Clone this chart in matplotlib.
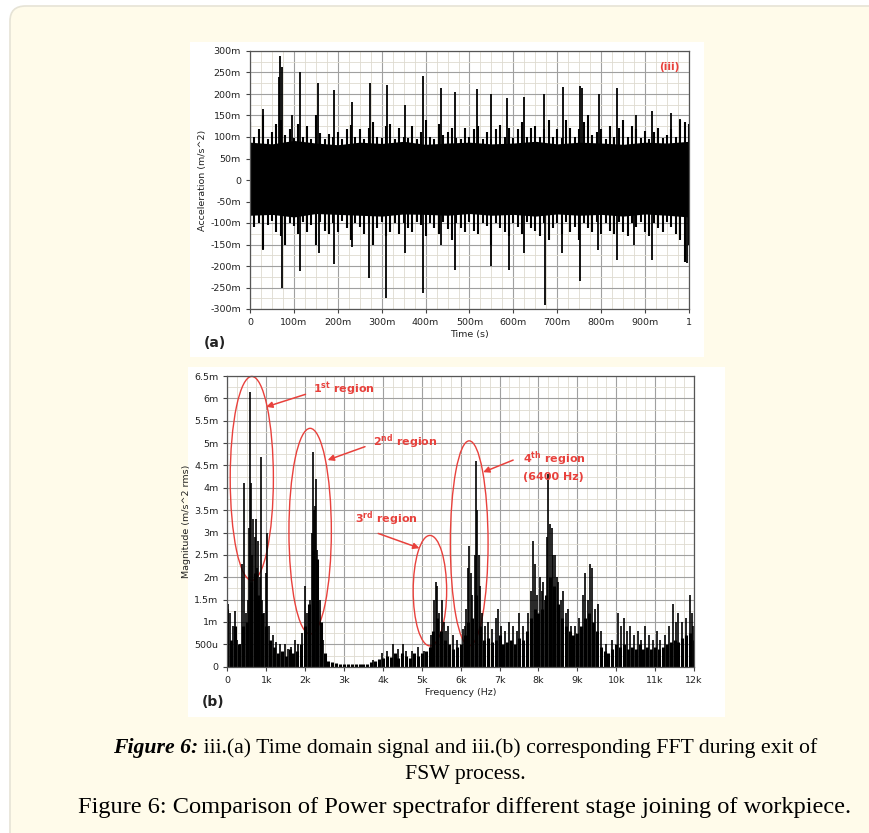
import numpy as np
import matplotlib
matplotlib.use("Agg")
import matplotlib.pyplot as plt
from matplotlib.patches import Ellipse, Rectangle, FancyBboxPatch
from matplotlib.ticker import FixedLocator, MultipleLocator

plt.rcParams['mathtext.fontset'] = 'dejavusans'

# ---------------- DATA: panel (a) time-domain signal ----------------
t_env = [i / 100 for i in range(101)]  # envelope sample times (s)
upper_env = [135,100,118,150,95,112,130,140,105,118,
             98,130,100,125,95,150,110,96,108,100,
             112,95,118,128,100,118,95,120,135,100,
             98,125,130,96,120,100,98,125,95,112,
             140,100,96,130,105,112,120,98,95,122,
             100,118,125,96,112,95,118,128,100,120,
             98,118,135,100,120,125,100,118,140,100,
             118,98,140,120,100,118,135,150,105,112,
             118,96,125,100,120,140,100,125,118,98,
             115,96,112,120,98,105,118,100,140,135,130]
lower_env = [-95,-110,-100,-160,-105,-96,-120,-130,-150,-100,
             -108,-125,-98,-120,-105,-150,-98,-118,-125,-100,
             -120,-96,-112,-140,-100,-110,-125,-100,-150,-112,
             -98,-130,-120,-100,-125,-100,-112,-120,-98,-105,
             -130,-100,-112,-125,-98,-115,-140,-100,-112,-120,
             -98,-118,-125,-100,-108,-150,-100,-112,-120,-130,
             -100,-110,-125,-98,-112,-118,-130,-100,-140,-112,
             -100,-125,-98,-120,-110,-140,-100,-112,-120,-98,
             -125,-100,-118,-125,-98,-120,-130,-100,-110,-98,
             -120,-130,-100,-112,-120,-98,-110,-125,-140,-190,-150]
t_core = [i / 20 for i in range(21)]
core_upper = [88,84,92,86,82,88,85,90,83,86,88,84,86,90,84,88,86,83,88,86,90]
core_lower = [-82,-80,-86,-78,-80,-82,-84,-79,-80,-82,-78,-82,-80,-84,-79,-82,-80,-84,-79,-82,-86]
spike_up_t = [0.030,0.066,0.068,0.072,0.095,0.114,0.154,0.191,0.232,0.273,0.312,0.353,0.394,
              0.434,0.468,0.518,0.550,0.586,0.624,0.670,0.713,0.752,0.756,0.796,0.837,0.880,
              0.915,0.960,0.980]
spike_up_v = [166,240,288,262,151,250,225,209,182,225,221,174,242,213,204,211,201,190,192,199,
              217,218,215,201,213,150,160,155,143]
spike_lo_t = [0.030,0.072,0.114,0.157,0.192,0.232,0.270,0.310,0.353,0.394,0.434,0.468,0.550,
              0.590,0.624,0.672,0.710,0.751,0.793,0.837,0.875,0.915,0.995]
spike_lo_v = [-163,-252,-211,-170,-195,-155,-228,-275,-170,-262,-150,-209,-200,-209,-170,-290,
              -170,-236,-163,-186,-150,-186,-192]
a_yticks = [300,250,200,150,100,50,0,-50,-100,-150,-200,-250,-300]
a_ylabels = ['300m','250m','200m','150m','100m','50m','0','-50m','-100m','-150m','-200m','-250m','-300m']
a_xticks = [0,0.1,0.2,0.3,0.4,0.5,0.6,0.7,0.8,0.9,1.0]
a_xlabels = ['0','100m','200m','300m','400m','500m','600m','700m','800m','900m','1']

# ---------------- DATA: panel (b) FFT magnitude ----------------
f_floor = [i * 0.1 for i in range(121)]  # kHz
floor_v = [1.3,0.6,0.9,0.5,0.9,1.0,1.9,2.1,1.6,1.2,
           0.9,0.6,0.45,0.3,0.35,0.25,0.4,0.3,0.35,0.5,
           0.9,1.4,2.6,2.4,1.0,0.3,0.12,0.1,0.08,0.07,
           0.06,0.05,0.05,0.05,0.05,0.06,0.07,0.1,0.12,0.18,
           0.2,0.25,0.22,0.3,0.2,0.3,0.25,0.2,0.3,0.25,
           0.3,0.35,0.45,0.8,1.1,0.8,0.6,0.5,0.4,0.45,
           0.5,0.7,1.0,1.1,1.6,0.9,0.6,0.65,0.55,0.6,
           0.7,0.5,0.55,0.6,0.5,0.65,0.6,0.8,1.1,1.3,
           1.2,1.3,1.6,2.0,1.8,1.4,1.1,0.9,0.8,0.7,
           0.75,0.9,1.1,1.2,1.0,0.8,0.45,0.35,0.3,0.4,
           0.5,0.45,0.5,0.4,0.45,0.4,0.5,0.4,0.45,0.4,
           0.45,0.4,0.45,0.5,0.55,0.6,0.55,0.65,0.7,0.75,0.6]
peak_f = [0.00,0.03,0.08,0.15,0.20,0.26,0.33,0.39,0.42,0.47,0.52,0.56,0.58,0.61,0.64,0.67,0.70,
          0.73,0.77,0.80,0.83,0.86,0.90,0.95,1.00,1.02,1.08,1.18,1.25,1.35,1.48,1.55,1.65,1.74,
          1.82,1.91,2.01,2.06,2.12,2.17,2.20,2.23,2.26,2.28,2.31,2.34,2.38,2.45,3.75,3.97,4.10,
          4.27,4.40,4.53,4.60,4.75,4.90,5.05,5.25,5.32,5.36,5.40,5.45,5.51,5.57,5.63,5.68,5.80,
          5.90,6.05,6.10,6.15,6.20,6.22,6.27,6.30,6.36,6.39,6.43,6.46,6.50,6.55,6.62,6.71,6.80,
          6.90,6.97,7.05,7.15,7.25,7.35,7.44,7.50,7.60,7.72,7.80,7.87,7.91,7.96,8.04,8.10,8.13,
          8.18,8.23,8.25,8.30,8.34,8.37,8.43,8.47,8.51,8.57,8.64,8.70,8.77,8.85,8.95,9.05,9.15,
          9.20,9.27,9.33,9.39,9.45,9.54,9.62,9.75,9.90,10.05,10.12,10.20,10.28,10.35,10.45,10.55,
          10.65,10.74,10.85,10.95,11.04,11.12,11.25,11.35,11.47,11.53,11.60,11.70,11.80,11.90,
          11.95,11.98]
peak_v = [3.0,1.4,1.2,0.9,1.25,0.6,0.5,2.3,4.1,1.2,1.5,3.1,6.15,4.1,2.5,3.3,2.9,
          3.3,2.2,2.8,2.0,4.7,1.5,1.2,2.1,3.0,0.9,0.7,0.55,0.5,0.5,0.4,0.45,0.6,
          0.5,0.75,1.8,1.2,1.5,3.0,4.8,3.5,3.6,4.2,2.6,2.2,1.5,0.6,0.15,0.3,0.35,
          0.5,0.4,0.5,0.35,0.35,0.45,0.35,0.7,1.5,1.9,1.8,1.2,1.5,1.0,0.8,0.9,0.7,
          0.6,0.85,0.9,1.3,2.2,2.7,2.1,1.6,2.5,4.6,3.5,2.5,1.8,1.2,0.9,1.0,0.85,
          1.1,1.3,0.9,0.8,1.0,0.9,0.8,1.2,0.9,1.2,1.7,2.8,2.3,1.6,2.0,1.7,1.9,
          1.5,2.9,4.3,3.2,3.1,2.5,2.5,2.0,1.9,1.5,1.7,1.2,1.3,0.9,0.9,1.1,1.6,
          2.1,1.5,2.3,2.2,1.3,1.4,0.8,0.5,0.6,1.2,0.9,1.1,0.8,0.9,0.7,0.8,
          0.6,0.9,0.7,0.6,0.8,0.6,0.7,0.9,1.4,1.0,1.2,1.0,1.1,1.6,
          1.2,0.9]
b_yticks = [0,0.5,1,1.5,2,2.5,3,3.5,4,4.5,5,5.5,6,6.5]
b_ylabels = ['0','500u','1m','1.5m','2m','2.5m','3m','3.5m','4m','4.5m','5m','5.5m','6m','6.5m']
b_xticks = list(range(13))
b_xlabels = ['0','1k','2k','3k','4k','5k','6k','7k','8k','9k','10k','11k','12k']

# annotations: (center f, center y, width, height)
ellipses = [(0.63,4.21,1.11,4.56),(2.13,3.03,1.09,4.60),(5.21,1.70,0.86,2.47),(6.22,2.76,0.97,4.58)]
labels = [r"1$^{\mathbf{st}}$ region", r"2$^{\mathbf{nd}}$ region", r"3$^{\mathbf{rd}}$ region",
          "4$^{\\mathbf{th}}$ region\n(6400 Hz)"]
label_xy = [(2.21,6.2),(3.75,5.02),(3.28,3.3),(7.61,4.50)]
arrow_tail = [(2.01,6.09),(3.54,4.92),(3.88,2.98),(7.35,4.62)]
arrow_head = [(1.0,5.81),(2.58,4.62),(4.94,2.65),(6.58,4.35)]

# ---------------- FIGURE ----------------
W, H = 870, 833
fig = plt.figure(figsize=(W/100, H/100), dpi=100, facecolor='white')

def px_rect(l, t, r, b):
    return [l/W, 1-b/H, (r-l)/W, (b-t)/H]

bg = FancyBboxPatch((10/W, 1-850/H), 880/W, (850-6)/H,
                    boxstyle="round,pad=0,rounding_size=0.018",
                    transform=fig.transFigure, facecolor='#fffbea', edgecolor='#e6e3d6', lw=1.2,
                    zorder=-10)
fig.patches.append(bg)
for (l, t, r, b) in [(190,42,704,357),(188,367,725,717)]:
    fig.patches.append(Rectangle((l/W, 1-b/H), (r-l)/W, (b-t)/H, transform=fig.transFigure,
                                 facecolor='white', edgecolor='none', zorder=-5))

red = '#e8413c'
tick_kw = dict(labelsize=6.8, labelcolor='#222222', length=3, width=0.8, color='#444444', direction='out')

def style(ax):
    ax.set_axisbelow(True)
    ax.grid(which='major', color='#a0a0a0', lw=0.8)
    ax.grid(which='minor', color='#dedbd0', lw=0.6)
    for s in ax.spines.values():
        s.set_color('#555555'); s.set_linewidth(0.9)
    ax.tick_params(which='major', **tick_kw)
    ax.tick_params(which='minor', length=0)
    ax.set_facecolor('white')

# ---- panel (a)
ax1 = fig.add_axes(px_rect(250, 51, 689, 309))
style(ax1)
ax1.fill_between(t_core, core_lower, core_upper, color='black', lw=0)
ax1.vlines(t_env, lower_env, upper_env, color='black', lw=1.5)
ax1.vlines(spike_up_t, 0, spike_up_v, color='black', lw=1.3)
ax1.vlines(spike_lo_t, spike_lo_v, 0, color='black', lw=1.3)
ax1.set_xlim(0, 1)
ax1.set_ylim(-300, 300)
ax1.yaxis.set_major_locator(FixedLocator(a_yticks))
ax1.set_yticklabels(a_ylabels)
ax1.xaxis.set_major_locator(FixedLocator(a_xticks))
ax1.set_xticklabels(a_xlabels)
ax1.xaxis.set_minor_locator(MultipleLocator(0.025))
ax1.yaxis.set_minor_locator(MultipleLocator(25))
ax1.set_ylabel('Acceleration (m/s^2)', fontsize=6.8, color='#222222', labelpad=2)
ax1.set_xlabel('Time (s)', fontsize=6.8, color='#222222', labelpad=2)
ax1.text(0.955, 262, '(iii)', color=red, fontsize=7.5, fontweight='bold', ha='center', va='center')
fig.text(204/W, 1-343/H, '(a)', fontsize=10, fontweight='bold', color='#222222', va='center')

# ---- panel (b)
ax2 = fig.add_axes(px_rect(227.3, 376, 694, 666.7))
style(ax2)
ax2.vlines(f_floor, 0, floor_v, color='black', lw=2.2)
ax2.vlines(peak_f, 0, peak_v, color='black', lw=1.2)
ax2.set_xlim(0, 12)
ax2.set_ylim(0, 6.5)
ax2.yaxis.set_major_locator(FixedLocator(b_yticks))
ax2.set_yticklabels(b_ylabels)
ax2.xaxis.set_major_locator(FixedLocator(b_xticks))
ax2.set_xticklabels(b_xlabels)
ax2.xaxis.set_minor_locator(MultipleLocator(0.25))
ax2.yaxis.set_minor_locator(MultipleLocator(0.25))
ax2.set_ylabel('Magnitude (m/s^2 rms)', fontsize=6.8, color='#222222', labelpad=2)
ax2.set_xlabel('Frequency (Hz)', fontsize=6.8, color='#222222', labelpad=2)
for (cx, cy, w, h) in ellipses:
    ax2.add_patch(Ellipse((cx, cy), w, h, fill=False, ec=red, lw=1.0, clip_on=False))
for lab, (lx, ly), tail, head in zip(labels, label_xy, arrow_tail, arrow_head):
    ax2.text(lx, ly, lab, color=red, fontsize=8, fontweight='bold', ha='left', va='center',
             linespacing=1.5)
    ax2.annotate('', xy=head, xytext=tail,
                 arrowprops=dict(arrowstyle='-|>', color=red, lw=1.1, mutation_scale=9,
                                 shrinkA=0, shrinkB=0))
fig.text(202/W, 1-702/H, '(b)', fontsize=10, fontweight='bold', color='#222222', va='center')

# ---- caption
serif = 'Liberation Serif'
cap_size = 15.7
cx_px = 465
renderer = fig.canvas.get_renderer()
p1 = fig.text(0, 0, 'Figure 6:', fontsize=cap_size, family=serif, fontweight='bold', style='italic')
p2 = fig.text(0, 0, ' iii.(a) Time domain signal and iii.(b) corresponding FFT during exit of',
              fontsize=cap_size, family=serif)
w1 = p1.get_window_extent(renderer).width
w2 = p2.get_window_extent(renderer).width
x0 = cx_px - (w1 + w2) / 2
y1 = 1 - 748/H
p1.set_position((x0/W, y1)); p1.set_va('center')
p2.set_position(((x0 + w1)/W, y1)); p2.set_va('center')
fig.text(cx_px/W, 1-774/H, 'FSW process.', fontsize=cap_size, family=serif, ha='center', va='center')
fig.text(cx_px/W, 1-808/H, 'Figure 6: Comparison of Power spectrafor different stage joining of workpiece.',
         fontsize=17.6, family=serif, ha='center', va='center')

fig.savefig('out.png', dpi=100, facecolor=fig.get_facecolor())
